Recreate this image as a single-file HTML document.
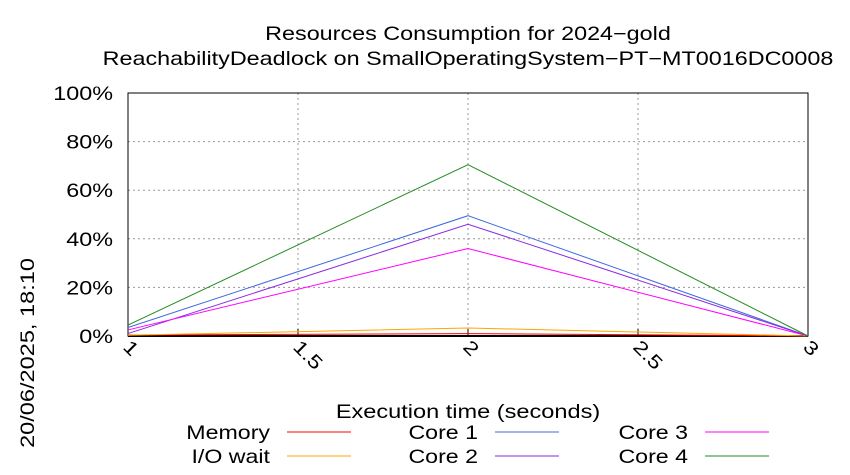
<!DOCTYPE html>
<html><head><meta charset="utf-8"><style>body{margin:0;background:#fff}svg{display:block;font-family:"Liberation Sans",sans-serif}</style></head><body>
<svg id="c" width="850" height="475">
<text transform="translate(468,40) scale(1.23,1)" font-size="19" text-anchor="middle">Resources Consumption for 2024−gold</text>
<text transform="translate(468,65) scale(1.23,1)" font-size="19" text-anchor="middle">ReachabilityDeadlock on SmallOperatingSystem−PT−MT0016DC0008</text>
<text transform="translate(34,353) rotate(-90) scale(1.24,1)" font-size="19" text-anchor="middle">20/06/2025, 18:10</text>
<text transform="translate(468,418) scale(1.24,1)" font-size="19" text-anchor="middle">Execution time (seconds)</text>
<g id="grid"></g><g id="series"></g><g id="legend"></g>
</svg>
<script>
const xTicks=[1,1.5,2,2.5,3];
const yTicks=[0,20,40,60,80,100];
const times=[1,2,3];
const seriesNames=["Memory","I/O wait","Core 1","Core 2","Core 3","Core 4"];
const seriesColors=["#ff0000","#ffa500","#4169e1","#8a2be2","#ff00ff","#228b22"];
const memory=[0.4,1.0,0];
const ioWait=[0.3,3.3,0];
const core1=[3.5,49.5,0];
const core2=[1.0,46,0];
const core3=[2.5,36,0];
const core4=[4.5,70.5,0];
const allSeries=[memory,ioWait,core1,core2,core3,core4];
const X0=128,X1=808,Y0=336,Y1=93;
const sx=v=>X0+(v-1)/2*(X1-X0), sy=v=>Y0-v/100*(Y0-Y1);
const NS="http://www.w3.org/2000/svg";
function mk(t,a,p){const e=document.createElementNS(NS,t);for(const k in a)e.setAttribute(k,a[k]);p.appendChild(e);return e;}
const g=document.getElementById('grid');
yTicks.forEach(v=>{const y=sy(v);
 if(v>0&&v<100){const l=mk('line',{x1:X0,x2:X1,y1:y,y2:y,stroke:'#999','stroke-dasharray':'2,3','stroke-width':1},g);}
 const t=mk('text',{transform:`translate(${X0-15},${y+7}) scale(1.23,1)`,'font-size':19,'text-anchor':'end'},g);t.textContent=v+'%';
 
 
});
xTicks.forEach(v=>{const x=sx(v);
 if(v>1&&v<3){const l=mk('line',{x1:x,x2:x,y1:Y1,y2:Y0,stroke:'#999','stroke-dasharray':'2,3','stroke-width':1},g);
 const m=mk('line',{x1:x,x2:x,y1:Y0,y2:Y0-7,stroke:'#000'},g);}
 const t=mk('text',{transform:`translate(${x-6},${Y0+12}) rotate(45) scale(1.23,1)`,'font-size':19},g);t.textContent=v;
 
 
});
const fr=mk('rect',{x:X0,y:Y1,width:X1-X0,height:Y0-Y1,fill:'none',stroke:'#000','stroke-width':1},g);

const bl=mk('line',{x1:X0,x2:X1,y1:Y0,y2:Y0,stroke:'#000','stroke-width':2},g);

const s=document.getElementById('series');
allSeries.forEach((d,i)=>{const p=mk('polyline',{points:d.map((v,j)=>sx(times[j])+','+sy(v)).join(' '),fill:'none',stroke:seriesColors[i],'stroke-width':1},s);
 
 
});
const lg=document.getElementById('legend');
const cols=[270,478,688],rows=[440,464];
seriesNames.forEach((n,i)=>{const c=Math.floor(i/2),r=i%2;
 const t=mk('text',{transform:`translate(${cols[c]},${rows[r]-1}) scale(1.22,1)`,'font-size':19,'text-anchor':'end'},lg);t.textContent=n;
 
 
 const l=mk('line',{x1:cols[c]+17,x2:cols[c]+81,y1:rows[r]-8,y2:rows[r]-8,stroke:seriesColors[i],'stroke-width':1},lg);
 
 
});
</script>
</body></html>
